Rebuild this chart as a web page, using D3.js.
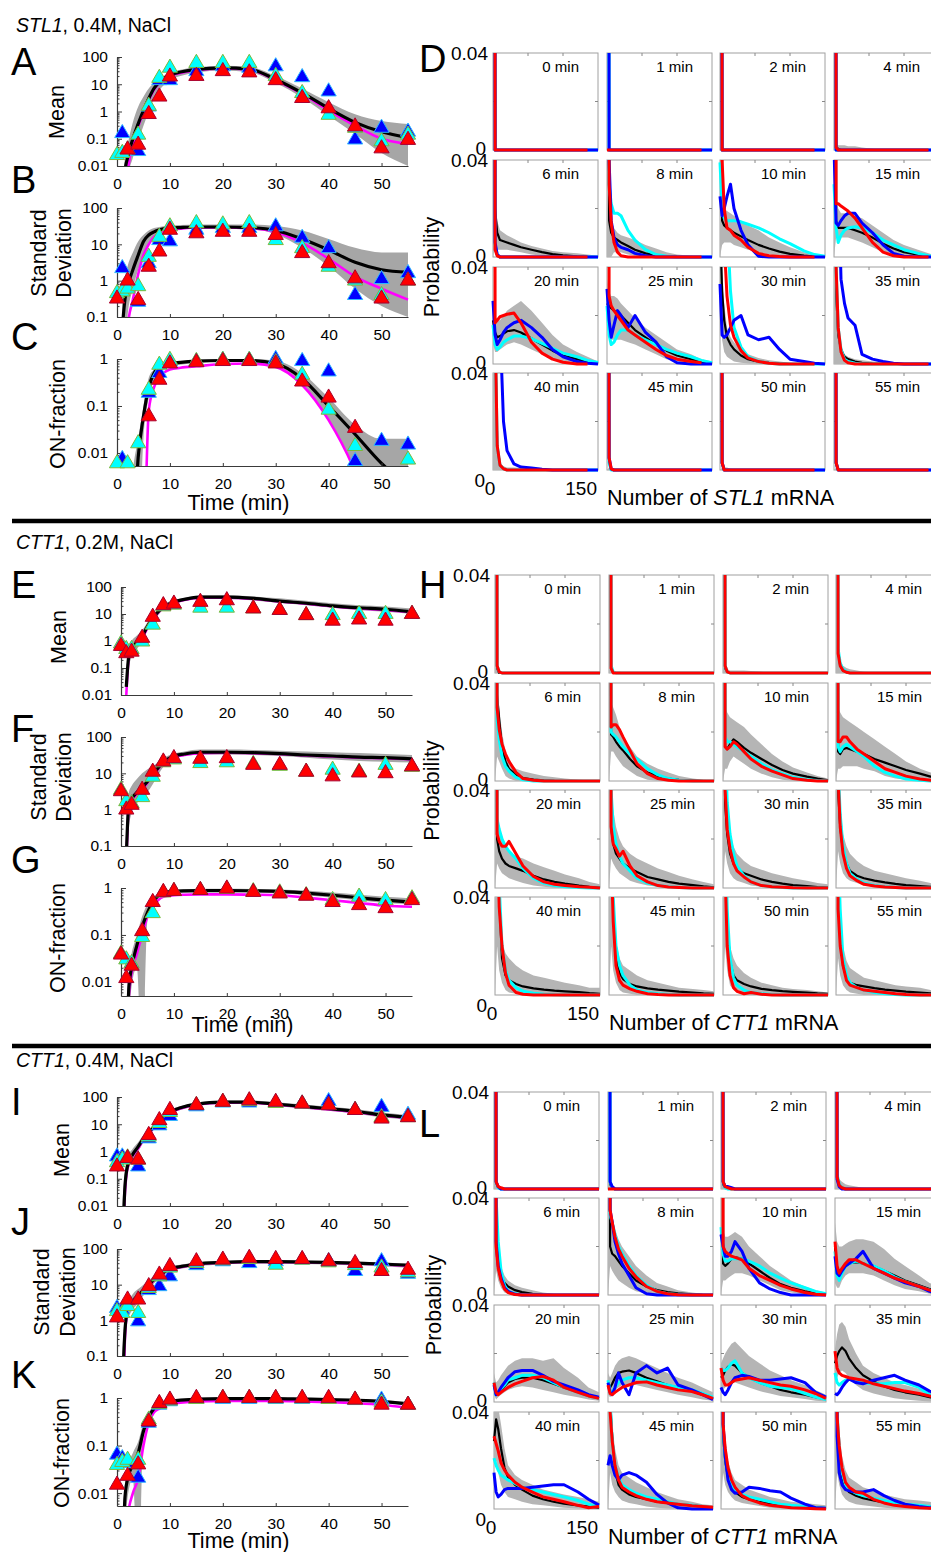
<!DOCTYPE html>
<html><head><meta charset="utf-8">
<script src="https://cdn.jsdelivr.net/npm/d3@7"></script>
<style>body{margin:0;background:#fff}svg{display:block}text{font-family:'Liberation Sans',Arial,Helvetica,sans-serif;fill:#000}</style>
</head><body><script>
// ---------------- DATA ----------------
const times = [0,1,2,4,6,8,10,15,20,25,30,35,40,45,50,55];
const modelTimes = [0,1,1.5,2,3,4,5,6,7,8,10,12,15,20,25,30,35,40,45,50,55];
const xTicks = [0,10,20,30,40,50];
const meanTicks = [0.01,0.1,1,10,100], meanTickLabels = ["0.01","0.1","1","10","100"];
const sdTicks = [0.1,1,10,100], sdTickLabels = ["0.1","1","10","100"];
const onTicks = [0.01,0.1,1], onTickLabels = ["0.01","0.1","1"];
const histX = [0,3,6,10,15,20,30,40,55,70,85,100,120,135,150];
const histYLabels = ["0","0.04"];
const histXLabels = ["0","150"];

// ---- STL1 0.4M ----
const stl1MeanBlue = [null,0.16,null,0.035,1.5,14,14,30,45,40,45,18,5.4,0.093,0.25,0.18];
const stl1MeanCyan = [0.025,0.03,0.04,0.14,1.6,17,40,60,60,60,20,4.7,0.75,0.25,0.08,0.14];
const stl1MeanRed = [null,null,0.04,0.06,0.8,3.5,19,20,30,27,14,3.1,1.3,0.28,0.044,0.09];
const stl1MeanBlack = [null,1e-4,0.006,0.02,0.1,0.35,1.1,3,7,12,22,28,35,40,36,15,4.8,1.3,0.4,0.18,0.11];
const stl1MeanMagenta = [null,1e-4,1e-4,0.005,0.06,0.28,0.9,2.6,6.3,11,20,26,33,38,34,14,4.4,1.1,0.3,0.1,0.065];
const stl1MeanGrayLo = [null,1e-4,1e-4,0.003,0.02,0.08,0.3,1,3,6,14,20,27,32,28,11,3.2,0.7,0.15,0.03,0.01];
const stl1MeanGrayHi = [null,0.002,0.02,0.06,0.4,1.5,3.5,7,11,16,27,34,42,48,44,20,7,2.2,0.8,0.45,0.35];

const stl1SdBlue = [null,2.2,null,0.26,3,13,12,25,28,28,31,15,7.8,0.4,1.1,1.6];
const stl1SdCyan = [0.45,0.5,0.6,0.7,4.5,16,31,38,35,38,13,7.8,2.4,1.0,0.4,1.0];
const stl1SdRed = [0.32,null,1.0,0.29,2.4,6.3,25,20,22,22,18,5.7,3,1.15,0.32,1.0];
const stl1SdBlack = [null,0.05,0.3,0.7,2,5,12,18,22,25,28,29,30,30,29,24,14,7,3.2,2,1.7];
const stl1SdMagenta = [null,1e-4,1e-4,0.05,0.3,1.5,5,10,16,20,25,27,29,29,28,22,11,4,1.3,0.6,0.3];
const stl1SdGrayLo = [null,1e-4,0.01,0.1,0.6,2,5,10,15,19,24,26,27,27,26,19,8,2.5,0.6,0.2,0.1];
const stl1SdGrayHi = [null,0.3,1.2,2.5,6,12,18,24,28,30,33,34,35,35,35,32,24,14,8,6,6];

const stl1OnBlue = [null,0.0074,null,null,0.19,0.5,0.88,0.88,0.95,0.95,1.0,0.9,0.54,0.0067,0.018,0.015];
const stl1OnCyan = [0.006,null,0.006,0.016,0.22,0.75,0.95,0.9,0.95,0.95,0.85,0.46,0.083,0.014,null,0.0072];
const stl1OnRed = [null,null,null,null,0.06,0.36,0.8,0.85,0.9,0.9,0.8,0.33,0.15,0.034,null,null];
const stl1OnBlack = [null,1e-4,1e-4,1e-4,1e-4,0.008,0.06,0.25,0.5,0.65,0.8,0.85,0.9,0.93,0.93,0.8,0.38,0.1,0.025,0.006,0.002];
const stl1OnMagenta = [null,1e-4,1e-4,1e-4,1e-4,1e-4,1e-4,0.08,0.25,0.4,0.6,0.65,0.7,0.78,0.8,0.68,0.28,0.05,0.004,1e-4,1e-4];
const stl1OnGrayLo = [null,1e-4,1e-4,1e-4,1e-4,1e-4,0.02,0.15,0.35,0.5,0.7,0.75,0.82,0.88,0.88,0.72,0.3,0.05,0.006,0.004,0.004];
const stl1OnGrayHi = [null,1e-4,1e-4,1e-4,0.004,0.02,0.1,0.4,0.6,0.75,0.88,0.9,0.95,1,1,0.92,0.5,0.15,0.04,0.02,0.02];

// histogram values in units of 0.001 probability, one row per time point
const stl1HistRed = [
[999,0,0,0,0,0,0,0,0,0,0,0,0,0,null],
[0,0,0,0,0,0,0,0,0,0,0,0,0,0,null],
[999,0,0,0,0,0,0,0,0,0,0,0,0,0,null],
[999,1,0,0,0,0,0,0,0,0,0,0,0,0,null],
[999,3,0.5,0,0,0,0,0,0,0,0,0,0,0,null],
[999,30,14,6,2,0.5,0,0,0,0,0,0,0,0,null],
[999,40,20,12,11,9,7,4,1.5,0.5,0.2,0,0,0,null],
[999,22,22,21,20,19,16,12,6,2,0.5,0,0,0,null],
[999,17,18,19.5,20,20.5,21,17,9,4.5,2,0.7,0,0,null],
[999,28,24,22,20,18,14,12,9,6,3.5,2,1,0.5,null],
[999,80,50,28,16,11,5.5,2.5,1,0.3,0,0,0,0,null],
[999,40,15,5,1.5,0.5,0,0,0,0,0,0,0,0,null],
[999,60,10,2,0.5,0,0,0,0,0,0,0,0,0,null],
[999,5,0.5,0,0,0,0,0,0,0,0,0,0,0,null],
[999,3,0,0,0,0,0,0,0,0,0,0,0,0,null],
[999,3,0,0,0,0,0,0,0,0,0,0,0,0,null]];
const stl1HistBlue = [
[999,0,0,0,0,0,0,0,0,0,0,0,0,0,0],
[999,0,0,0,0,0,0,0,0,0,0,0,0,0,0],
[999,0,0,0,0,0,0,0,0,0,0,0,0,0,0],
[999,0,0,0,0,0,0,0,0,0,0,0,0,0,0],
[999,6,1,0,0,0,0,0,0,0,0,0,0,0,0],
[999,40,15,8,5,4,3,1.5,0.5,0,0,0,0,0,0],
[25,17,20,25,30,20,11,5,0.3,0,0,0,0,0,0],
[45,14,13,15,17,18,18,14,10,5,1.5,0.3,0,0,0],
[26,12,8,10,13,15,17,18,15,11,6,3,1,0.3,0],
[31,18,11,16,22,20,15,20,13,9,3,0.5,0,0,0],
[33,12,11,12,15,18,20,12,10,11,6,2,1,0.3,0],
[999,999,80,35,25,19,16,4,2,1,0.3,0,0,0,0],
[999,999,200,60,20,8,2.5,1.2,0.8,0.3,0,0,0,0,0],
[999,5,0.5,0,0,0,0,0,0,0,0,0,0,0,0],
[999,3,0,0,0,0,0,0,0,0,0,0,0,0,0],
[999,3,0,0,0,0,0,0,0,0,0,0,0,0,0]];
const stl1HistCyan = [
[999,0,0,0,0,0,0,0,0,0,0,0,0,0,0],
[999,0,0,0,0,0,0,0,0,0,0,0,0,0,0],
[999,0,0,0,0,0,0,0,0,0,0,0,0,0,0],
[999,0,0,0,0,0,0,0,0,0,0,0,0,0,0],
[999,5,1,0,0,0,0,0,0,0,0,0,0,0,0],
[999,30,22,18,18,17,11,7,3,1,0.3,0,0,0,0],
[39,20,16,15,15,15,14.5,13.5,12,10,7.5,5.5,2.5,1,0.3],
[30,12,6,9,11,12,12.5,12,10,7,5,3,1.5,0.5,0.1],
[16,8,6,7,9,10,11.5,11.5,10.5,8.5,6.5,4.5,3,1.5,0.6],
[24,12,8,9,12,14,14,12,10,8,6,4.5,3,1.5,0.5],
[999,999,90,60,30,15,7,3,1,0.3,0,0,0,0,0],
[999,40,15,6,2,1,0.3,0,0,0,0,0,0,0,0],
[999,60,10,2,0.5,0,0,0,0,0,0,0,0,0,0],
[999,3,0,0,0,0,0,0,0,0,0,0,0,0,0],
[999,3,0,0,0,0,0,0,0,0,0,0,0,0,0],
[999,3,0,0,0,0,0,0,0,0,0,0,0,0,0]];
const stl1HistBlack = [
[999,0,0,0,0,0,0,0,0,0,0,0,0,0,0],
[999,0,0,0,0,0,0,0,0,0,0,0,0,0,0],
[999,0,0,0,0,0,0,0,0,0,0,0,0,0,0],
[999,1,0.5,0,0,0,0,0,0,0,0,0,0,0,0],
[999,20,10,7,6.5,6,5,4,3,2,1.2,0.7,0.3,0.1,0],
[999,15,10,8,7,6,4.5,3,1.5,0.7,0.3,0.1,0,0,0],
[999,15,13,12,11,10,8.5,7,5,3.5,2.2,1.3,0.6,0.2,0],
[999,15,12,12,12,12,11,10,8,5.5,3.5,2,1,0.4,0.1],
[18,13,11,11.5,12.5,13.5,14,13,10.5,8,5.5,3.5,2,0.8,0.2],
[25,24,23,22,21,20,17,14,11,8,5.5,3.5,2,1,0.3],
[60,30,18,11,8,6,3.5,2,1,0.5,0.2,0,0,0,0],
[999,30,12,6,3,2,1,0.5,0.2,0,0,0,0,0,0],
[999,60,10,2,0.5,0,0,0,0,0,0,0,0,0,0],
[999,3,0,0,0,0,0,0,0,0,0,0,0,0,0],
[999,3,0,0,0,0,0,0,0,0,0,0,0,0,0],
[999,3,0,0,0,0,0,0,0,0,0,0,0,0,0]];
const stl1HistGrayLo = [
[0,0,0,0,0,0,0,0,0,0,0,0,0,0,0],
[0,0,0,0,0,0,0,0,0,0,0,0,0,0,0],
[0,0,0,0,0,0,0,0,0,0,0,0,0,0,0],
[0,0,0,0,0,0,0,0,0,0,0,0,0,0,0],
[0,5,3,3,3,3,2.5,2,1,0.5,0,0,0,0,0],
[0,0,0,2,2,2,1,0.5,0,0,0,0,0,0,0],
[0,5,6,6,6,5,4,3,2,1,0.5,0,0,0,0],
[0,8,8,8,8,8,7,6,4,2,1,0.5,0,0,0],
[8,5,5,6,7,8,9,8,6,4,2,1,0.3,0,0],
[15,12,10,10,10,10,9,8,6,4,2,1,0.5,0,0],
[20,10,5,3,2,1,0.5,0.2,0,0,0,0,0,0,0],
[0,0,0,0,0,0,0,0,0,0,0,0,0,0,0],
[0,0,0,0,0,0,0,0,0,0,0,0,0,0,0],
[0,0,0,0,0,0,0,0,0,0,0,0,0,0,0],
[0,0,0,0,0,0,0,0,0,0,0,0,0,0,0],
[0,0,0,0,0,0,0,0,0,0,0,0,0,0,0]];
const stl1HistGrayHi = [
[0,0,0,0,0,0,0,0,0,0,0,0,0,0,0],
[0,0,0,0,0,0,0,0,0,0,0,0,0,0,0],
[0,2.5,0.5,0,0,0,0,0,0,0,0,0,0,0,0],
[999,3,2,2,2,1.5,1.5,1,0.5,0,0,0,0,0,0],
[999,25,15,11,10,9,7.5,6,4.5,3.5,2.5,2,1.5,1,0.5],
[999,30,15,12,10,9,8,7,5,3.5,2,1,0.5,0.2,0],
[999,25,20,19,18,17,15,13,11,8,6,4,2,1,0.5],
[999,25,20,18,18,18,17,16,13,10,7,5,3,1.5,0.5],
[25,20,18,18,20,22,24,26,22,17,12,8,5,3,1],
[35,30,28,28,27,25,22,19,15,12,9,6,4,2,1],
[80,40,25,15,11,9,6,4,2.5,1.5,1,0.5,0.3,0.1,0],
[999,40,15,8,4,3,2,1.5,1,0.7,0.5,0.3,0.2,0.1,0],
[999,60,12,3,1.5,1,1,0.8,0.5,0.3,0.2,0,0,0,0],
[0,1,1,0.5,0.5,0.3,0.3,0,0,0,0,0,0,0,0],
[0,1,1,1,0.5,0.3,0,0,0,0,0,0,0,0,0],
[0,1,1,0.5,0.5,0.3,0,0,0,0,0,0,0,0,0]];

// ---- CTT1 0.2M ----
const ctt1aMeanCyan = [0.8,0.5,0.5,0.95,4,19,22,17,17,16,14,9,9,10,10,10];
const ctt1aMeanRed = [0.65,0.35,0.4,1.3,7.8,21,24,28,32,16,14,9,5.6,6.2,5.6,10];
const ctt1aMeanBlack = [null,0.02,0.3,0.5,0.9,1.5,3.5,7,12,18,28,35,42,42,38,30,25,20,17,15,12];
const ctt1aMeanMagenta = [null,0.01,0.25,0.45,0.8,1.3,3,6.5,11,17,26,33,40,40,36,29,24,19,16,14,11.5];
const ctt1aMeanGrayLo = [null,0.005,0.1,0.25,0.5,1,2.5,5,9,15,24,30,36,36,32,26,21,17,14,12,10];
const ctt1aMeanGrayHi = [null,0.05,0.6,1,1.6,2.5,5,9,15,22,33,40,50,50,45,38,31,25,21,19,16];

const ctt1aSdCyan = [3.5,1.7,1.5,2.2,8,20,24,19,20,18,16,11,12.5,11,17,15];
const ctt1aSdRed = [3.2,1.0,1.35,3.5,11,21,26,25,26,17,17,11,8.2,10.5,10,15.5];
const ctt1aSdBlack = [null,0.05,1.5,2,3,4,6,9,14,20,30,34,38,38,37,35,32,30,28,27,25];
const ctt1aSdMagenta = [null,0.03,1.3,1.8,2.7,3.6,5.5,8.5,13,19,28,32,36,37,36,34,31,29,27,26,24];
const ctt1aSdGrayLo = [null,0.01,0.3,0.8,1.5,2,3,5,9,15,25,30,33,33,32,30,27,24,22,21,20];
const ctt1aSdGrayHi = [null,0.1,3,4.5,7,10,13,16,20,26,35,40,45,45,44,42,40,38,36,34,32];

const ctt1aOnCyan = [0.04,0.03,0.025,0.09,0.29,0.8,0.86,0.9,0.95,0.85,0.8,0.7,0.55,0.65,0.55,0.6];
const ctt1aOnRed = [0.038,0.012,0.022,0.12,0.5,0.82,0.86,0.9,0.97,0.82,0.76,0.68,0.5,0.43,0.37,0.55];
const ctt1aOnBlack = [null,1e-4,0.008,0.02,0.06,0.15,0.3,0.5,0.68,0.8,0.85,0.87,0.88,0.88,0.87,0.85,0.78,0.7,0.62,0.55,0.5];
const ctt1aOnMagenta = [null,1e-4,0.005,0.015,0.04,0.1,0.25,0.4,0.55,0.65,0.7,0.72,0.73,0.73,0.72,0.7,0.62,0.55,0.48,0.42,0.4];
const ctt1aOnGrayLo = [null,1e-4,0.002,0.008,0.02,1e-4,0.2,0.4,0.6,0.72,0.78,0.8,0.82,0.82,0.8,0.78,0.7,0.62,0.55,0.48,0.45];
const ctt1aOnGrayHi = [null,0.003,0.02,0.04,0.1,0.25,0.45,0.6,0.78,0.88,0.92,0.94,0.96,0.96,0.95,0.93,0.88,0.8,0.72,0.65,0.6];

const ctt1aHistRed = [
[999,3,0.5,0,0,0,0,0,0,0,0,0,0,0,0],
[999,2,0,0,0,0,0,0,0,0,0,0,0,0,0],
[999,3,0.5,0,0,0,0,0,0,0,0,0,0,0,0],
[999,8,3,1,0.3,0,0,0,0,0,0,0,0,0,0],
[999,30,21,15,11,8,3.5,1,0.3,0,0,0,0,0,0],
[999,22,23,23,21,18,12.5,7,3,1,0.3,0,0,0,0],
[999,14,13,14,16,15,12,9,6,4,2.5,1,0.3,0,0],
[999,16,16,18,18,16,13,11,8,5,3.5,2,0.8,0.3,0],
[999,22,19,17,17,19,14,9,4.7,2.5,1.5,1,0.5,0.3,0],
[999,25,18,16,13,15,9,5,2.5,1,0.4,0.2,0,0,0],
[999,40,24,16,10,7,4.5,2.5,1,0.5,0.3,0.1,0,0,0],
[999,45,25,14,8,5,3,1.5,0.8,0.4,0.2,0,0,0,0],
[999,70,36,20,9,4,1,0.3,0,0,0,0,0,0,0],
[999,60,30,12,6,4,2.5,1.5,0.5,0.2,0,0,0,0,0],
[999,50,20,8,3,1.5,0.5,1,0.3,0,0,0,0,0,0],
[999,35,20,12,6,4,3,2,1.5,1,0.5,0.2,0,0,0]];
const ctt1aHistCyan = [
[999,3,0.5,0,0,0,0,0,0,0,0,0,0,0,0],
[999,3,0.5,0,0,0,0,0,0,0,0,0,0,0,0],
[999,3,0.5,0,0,0,0,0,0,0,0,0,0,0,0],
[999,10,4,1.5,0.5,0,0,0,0,0,0,0,0,0,0],
[999,25,17,10,6,4,1.5,0.5,0,0,0,0,0,0,0],
[999,20,19,18,16,14,11,9,5,2.5,1,0.3,0,0,0],
[999,18,16,16,15,14,12,10,7,4.5,3,1.5,0.5,0.2,0],
[999,14,12,14,15,14,12,10,6,3.5,2,0.8,0.3,0,0],
[999,28,24,20,17,15,12,8,4,2,1,0.5,0.2,0,0],
[999,40,25,18,13,10,7,4,2,1,0.5,0.2,0,0,0],
[999,60,35,22,14,9,5,2.5,1,0.5,0.2,0,0,0,0],
[999,50,30,17,10,6,3.5,2,1,0.5,0.2,0,0,0,0],
[999,80,45,20,10,6,3,1.5,0.7,0.3,0.1,0,0,0,0],
[999,80,40,20,12,8,4,2,1,0.5,0.2,0,0,0,0],
[999,70,35,15,7,4,2,1,0.5,0.2,0,0,0,0,0],
[999,60,35,15,8,5,3,2,1,0.5,0.2,0,0,0,0]];
const ctt1aHistBlack = [
[999,2,0,0,0,0,0,0,0,0,0,0,0,0,0],
[999,2,0,0,0,0,0,0,0,0,0,0,0,0,0],
[999,2,0.5,0,0,0,0,0,0,0,0,0,0,0,0],
[999,9,3,1,0.3,0,0,0,0,0,0,0,0,0,0],
[999,35,25,14,8,5,2.5,1.2,0.6,0.3,0.1,0,0,0,0],
[999,19,18,16,14,12.5,9,6,3.5,2,1,0.5,0.2,0,0],
[999,14,13,15,17,16,13.5,11.5,9,6.5,4.5,3,1.8,1,0.3],
[999,12,11,13,13.5,13,12,11,9,7.5,6,4.5,3,1.8,1],
[999,20,15,12,10,9,8,7,5,3.5,2.5,1.8,1,0.5,0.2],
[999,25,18,14,12,10,8,6.5,4.5,3.5,2.5,1.8,1.2,0.7,0.3],
[999,35,22,14,10,8,6,5,3.5,2.5,1.8,1.2,0.8,0.4,0.2],
[999,40,25,15,10,7,5,4,3,2.3,1.7,1.2,0.8,0.5,0.3],
[999,70,40,15,8,6,4.5,3.5,2.7,2.2,1.8,1.5,1.2,0.8,0.5],
[999,70,35,15,9,6.5,4.5,3.5,2.7,2.2,1.8,1.4,1,0.7,0.5],
[999,60,30,14,8,6,4.5,3.5,2.5,2,1.6,1.3,1,0.7,0.5],
[999,50,28,12,7,5,4,3.5,2.8,2.2,1.8,1.4,1,0.7,0.5]];
const ctt1aHistGrayLo = [
[0,0,0,0,0,0,0,0,0,0,0,0,0,0,0],
[0,0,0,0,0,0,0,0,0,0,0,0,0,0,0],
[0,0,0,0,0,0,0,0,0,0,0,0,0,0,0],
[0,0,0,0,0,0,0,0,0,0,0,0,0,0,0],
[0,10,8,5,2,1,0,0,0,0,0,0,0,0,0],
[0,12,12,10,8,6,4,2,0.5,0,0,0,0,0,0],
[0,5,5,8,10,9,7,5,3,1.5,0.5,0,0,0,0],
[0,5,5,6,6,6,6,5,4,2,1,0.5,0.2,0,0],
[0,10,8,6,5,4,3,2,1,0.5,0,0,0,0,0],
[0,12,10,8,6,5,3,2,1,0.5,0,0,0,0,0],
[0,15,10,6,4,3,2,1,0.5,0,0,0,0,0,0],
[0,15,10,6,4,3,2,1,0.5,0,0,0,0,0,0],
[0,20,10,5,2,1,0.5,0,0,0,0,0,0,0,0],
[0,20,10,5,2,1,0.5,0,0,0,0,0,0,0,0],
[0,20,10,4,2,1,0.5,0,0,0,0,0,0,0,0],
[0,15,8,4,2,1,0.5,0,0,0,0,0,0,0,0]];
const ctt1aHistGrayHi = [
[999,3,0.5,0,0,0,0,0,0,0,0,0,0,0,0],
[999,3,1,0.5,0.5,0.3,0,0,0,0,0,0,0,0,0],
[999,4,1.5,1,1,1,1,0.8,0.5,0,0,0,0,0,0],
[999,12,5,3,2,1.5,1,0.5,0.3,0,0,0,0,0,0],
[999,40,30,20,12,8,5,4,3,2,1.5,1,0.5,0.3,0],
[999,32,30,27,22,18,14,10,7,5,3.5,2,1,0.5,0.2],
[999,30,28,26,25,24,22,19,15,11,8,5.5,3.5,2,1],
[999,30,28,26,25,24,22,20,17,14,11,8,5,3.5,2],
[999,32,25,20,17,15,13,12,10,8.5,7,5.5,4,2.5,1.5],
[999,40,32,25,20,17,14,12,10,8,6.5,5,3.5,2.5,1.5],
[999,60,35,22,17,14,11,9,7.5,6,5,4,3,2,1.5],
[999,60,35,22,17,14,11,9,7,6,5,4,3,2,1.5],
[999,80,45,22,17,15,12,10,8,7,6,5,4,3,3],
[999,80,45,22,15,12,10,8,6,5,4,3,2.5,2,1.5],
[999,70,40,20,15,12,9,7,5,4,3,2.5,2,1.5,1],
[999,60,35,20,14,11,9,7,6,5,4,3.5,3,2,1.5]];

// ---- CTT1 0.4M ----
const ctt1bMeanBlue = [0.65,0.65,null,0.28,3,9,20,45,62,62,62,57,70,33,43,22];
const ctt1bMeanCyan = [0.4,0.5,0.6,0.5,3.5,11,28,50,66,70,60,57,50,33,18,18];
const ctt1bMeanRed = [0.28,null,0.57,0.5,4,14,33,50,66,75,66,57,50,33,16,18];
const ctt1bMeanBlack = [null,1e-4,0.05,0.3,0.8,1.5,3,5,8,13,28,40,55,65,65,55,45,37,30,22,18];
const ctt1bMeanMagenta = [null,1e-4,0.03,0.25,0.7,1.3,2.7,4.5,7.5,12,26,38,52,62,63,53,43,35,28,21,17];
const ctt1bMeanGrayLo = [null,1e-4,0.01,0.15,0.5,1,2.2,4,6.5,10,23,33,47,55,56,47,38,31,25,18,15];
const ctt1bMeanGrayHi = [null,0.01,0.2,0.6,1.3,2.2,4,6.5,10,16,33,46,63,75,75,64,53,44,36,27,22];

const ctt1bSdBlue = [2.2,2,null,0.93,7,9,17,35,45,40,45,50,45,24,45,20];
const ctt1bSdCyan = [1.8,1.6,2.5,1.6,8,17,30,40,48,52,36,50,42,35,30,22];
const ctt1bSdRed = [1.2,null,3.8,3.8,9,19,33,45,50,56,52,52,45,40,24,26];
const ctt1bSdBlack = [null,0.01,0.5,2,3.5,5,7,10,14,18,28,32,38,42,44,44,43,42,40,38,35];
const ctt1bSdMagenta = [null,1e-4,0.3,1.8,3.2,4.6,6.5,9.5,13,17,27,31,37,41,43,43,42,41,39,37,34];
const ctt1bSdGrayLo = [null,1e-4,0.2,1,2,3,5,7,11,15,24,28,33,37,39,39,38,37,35,33,30];
const ctt1bSdGrayHi = [null,0.1,1.5,3,5.5,7.5,10,13,18,22,32,36,42,46,48,48,47,46,44,42,40];

const ctt1bOnBlue = [0.064,0.054,0.043,0.021,0.3,0.72,0.85,0.95,0.95,0.95,0.95,0.95,0.95,0.9,0.92,0.72];
const ctt1bOnCyan = [0.039,0.045,0.05,0.05,0.35,0.75,0.88,0.95,1,1,0.98,0.98,0.95,0.92,0.8,0.72];
const ctt1bOnRed = [0.015,null,0.023,0.04,0.32,0.78,0.92,1.0,1.0,1.0,1.0,1.0,1.0,0.92,0.72,0.72];
const ctt1bOnBlack = [null,1e-4,0.008,0.02,0.04,0.07,0.2,0.4,0.6,0.75,0.85,0.9,0.95,0.97,0.97,0.97,0.95,0.93,0.9,0.85,0.75];
const ctt1bOnMagenta = [null,1e-4,1e-4,0.003,0.01,0.02,0.1,0.3,0.5,0.6,0.75,0.8,0.85,0.87,0.87,0.87,0.85,0.82,0.78,0.72,0.62];
const ctt1bOnGrayLo = [null,1e-4,0.002,0.008,0.02,1e-4,0.15,0.35,0.55,0.7,0.82,0.87,0.92,0.94,0.94,0.94,0.92,0.9,0.86,0.8,0.7];
const ctt1bOnGrayHi = [null,0.003,0.015,0.035,0.07,0.12,0.3,0.5,0.7,0.82,0.9,0.94,0.98,1,1,1,0.99,0.97,0.94,0.9,0.82];

const ctt1bHistRed = [
[999,3,1,0.5,0,0,0,0,0,0,0,0,0,0,0],
[0,0,0,0,0,0,0,0,0,0,0,0,0,0,0],
[999,3,1,0.5,0,0,0,0,0,0,0,0,0,0,0],
[999,5,1.5,0.5,0,0,0,0,0,0,0,0,0,0,0],
[999,20,11,6,2.5,1,0.2,0,0,0,0,0,0,0,0],
[999,35,30,24,19,16,11,7.5,3.5,1.5,0.5,0.1,0,0,0],
[999,20,18,17,16,15.5,14.5,11,8,6,4,2.5,1,0.3,0],
[22,12,9,11,13,14.5,14.5,13,11,9,7,5.5,3.5,2,1],
[8,4,3,4,5,6,7.5,8.5,10,10.5,9,6,4,2.5,1.5],
[7,3.5,3,4,5,6,7,8,8.3,7,6,5,4.3,3,1.5],
[14,9,7,7,8,9,9.5,10,9,8,7,6.5,5,3.5,1.5],
[21,14,12,11,10.5,10,9.5,9,7.5,6.5,5.5,4.5,3.5,2.5,1.5],
[30,27,24,19,16,14,11,9,7,5,4,3,1.5,0.5,1],
[999,40,28,18,12,9,7,5.5,4,3,2.5,2,1.3,1,0.7],
[999,35,25,17,12,9,5.5,4,2.5,1.5,1,0.5,0.3,0.1,0],
[999,38,26,17,11,9,7,6.5,4,2.5,1.5,1,0.5,0.3,0.2]];
const ctt1bHistBlue = [
[999,3,1,0,0,0,0,0,0,0,0,0,0,0,0],
[999,3,1,0,0,0,0,0,0,0,0,0,0,0,0],
[999,3,1,1,0.5,0,0,0,0,0,0,0,0,0,0],
[999,4,1,0,0,0,0,0,0,0,0,0,0,0,0],
[999,22,12,7,3,1.5,0.3,0,0,0,0,0,0,0,0],
[999,35,30,22,17,13,8,3,0.5,0,0,0,0,0,0],
[25,20,16,16,18,22,18,11,5,2.5,1,0,0,0,0],
[16,9,8,10,12,13,15,18,11,9,7,5,3.5,1.5,0.5],
[7,3,4,6,8,10,12.5,13,13,11,8.5,7,5,3,2],
[8,4,3,6,12,8,3,12,15,12,14,7,5,3,1],
[6,4,3,5,8,10,11,10.5,9,9,9.5,10,8,4,2],
[3.5,3,4,6,8,9.5,8,7.5,9,10,11,9,7,4.5,3],
[15,7,5,6,8,8.5,8.5,8.5,9,9.5,10,10,7,4,1.6],
[18,22,18,14,12,14,15,14,11,6,2.5,0.5,0,0,0],
[999,35,22,12,8,6.5,7,9,8.5,7.5,7,4.5,2,0.5,0.3],
[999,30,15,10,8,7.5,7,7,8,5.5,3.5,2,1,0.5,0.3]];
const ctt1bHistCyan = [
[999,3,0.5,0,0,0,0,0,0,0,0,0,0,0,0],
[999,3,0.5,0,0,0,0,0,0,0,0,0,0,0,0],
[999,3,0.5,0,0,0,0,0,0,0,0,0,0,0,0],
[999,6,2,0.5,0,0,0,0,0,0,0,0,0,0,0],
[999,40,22,10,4,1.5,0.5,0,0,0,0,0,0,0,0],
[999,33,30,25,20,17,12,8,4,1.5,0.5,0.2,0,0,0],
[28,17,14,14,15,15,15,14,12,9,7,5,3,1.5,0.5],
[18,8,6,9,12,13,14,13,12,10,7.5,5.5,3.5,2,1],
[8,3,4,5.5,7,9,10,11,11,10,8,6,4,2.5,1.5],
[9,4,4,6,8,9,10,10,9,8,7,6,5,3.5,2],
[14,13,13,14,16,17,12,10,8,6.5,6,5.5,3.5,2,1],
[12,8,7,8,9,9.5,9,8,7.5,7.5,8,8,6,3,1.5],
[21,18,16,14,13,12,10.5,9,8,7,6,5,3.5,2,1],
[999,45,28,18,13,10,8,6.5,5,4,3,2,1.5,1,0.5],
[999,33,22,14,10,8,6,5,4,3,2,1.5,1,0.5,0.3],
[999,40,25,15,10,8,6.5,5.5,4.5,3.5,2.5,2,1.5,1,0.5]];
const ctt1bHistBlack = [
[999,3,0.5,0,0,0,0,0,0,0,0,0,0,0,0],
[999,2,0.5,0,0,0,0,0,0,0,0,0,0,0,0],
[999,2,0.5,0,0,0,0,0,0,0,0,0,0,0,0],
[999,5,1.5,0.5,0,0,0,0,0,0,0,0,0,0,0],
[999,25,14,8,5,3.5,2,1.2,0.5,0.2,0,0,0,0,0],
[999,20,17,16,14,12,9,6,3.5,2,1.2,0.7,0.3,0.1,0],
[999,13,12,13,15,15.5,15,13,10,7,4.5,3,1.5,0.7,0.2],
[20,8,7,10,12,13,13.5,13,12,10,8,6,4,2.5,1.2],
[7,3,3.5,5,6.5,8,9.5,10,10,9,7.5,6,4,2.5,1.5],
[7,6,7.5,10,12,12.5,13,12,10,8.5,7,6,4.5,3,1.5],
[10,11,13,14.5,15.5,15,12,10,8,6.5,5,4,3,2,1.2],
[16,19,21,22.5,21,18,14,11,8.5,6.5,5,4,3,2,1.3],
[28,37,33,25,17,13,10,8,5.5,4,3,2.2,1.5,1,0.6],
[999,45,30,16,10,8,6,5,4,3,2.5,2,1.5,1,0.7],
[999,30,20,13,9,7,5,4,3,2.3,1.8,1.3,1,0.6,0.4],
[999,35,22,13,9,7,5.5,4.5,3.5,2.7,2.2,1.7,1.3,1,0.7]];
const ctt1bHistGrayLo = [
[0,0,0,0,0,0,0,0,0,0,0,0,0,0,0],
[0,0,0,0,0,0,0,0,0,0,0,0,0,0,0],
[0,0,0,0,0,0,0,0,0,0,0,0,0,0,0],
[0,0,0,0,0,0,0,0,0,0,0,0,0,0,0],
[0,10,6,3,1,0.5,0,0,0,0,0,0,0,0,0],
[0,12,10,8,6,5,3,1.5,0.5,0,0,0,0,0,0],
[0,6,6,7,8,9,9,8,6,4,2,1,0.3,0,0],
[5,3,3,6,8,9,9,9,8,6,4,2.5,1.5,0.5,0],
[3,1,2,3,4,5,6,6.5,6,5,4,3,2,1,0.5],
[3,2,3,5,6,7,7,7,6,5,4,3,2,1,0.5],
[4,5,6,7,8,8,7,6,4.5,3.5,2.5,2,1.2,0.5,0.2],
[10,10,12,13,12,10,7,5,3.5,2.5,1.5,1,0.5,0.2,0],
[20,20,15,10,7,5,4,3,2,1.5,1,0.5,0.2,0,0],
[0,15,10,7,5,3.5,2.5,2,1,0.5,0.2,0,0,0,0],
[0,15,10,7,5,3.5,2.5,2,1.2,0.5,0.2,0,0,0,0],
[0,15,10,6,4,3,2,1.5,1,0.5,0.2,0,0,0,0]];
const ctt1bHistGrayHi = [
[999,3,1,0.5,0,0,0,0,0,0,0,0,0,0,0],
[999,3,1,0.5,0,0,0,0,0,0,0,0,0,0,0],
[999,4,1.5,1,0.5,0.3,0,0,0,0,0,0,0,0,0],
[999,8,4,3,2,1.5,1,0.5,0.3,0,0,0,0,0,0],
[999,35,20,12,8,6,4,3,2,1,0.5,0.2,0,0,0],
[999,35,30,27,23,20,16,12,8,5,3.5,2,1,0.5,0.2],
[999,27,24,24,25,26,24,20,16,12,9,6,3.5,2,1],
[30,22,20,20,21,22,23,23,22,19,15,12,8,5,3],
[12,8,9,11,13,15,17,18,18,17,18,14,10,6,4],
[12,10,12,15,17,18,19,18,16,14,12,10,8,6,4],
[16,18,20,22,24,25,22,19,16,13,11,9,7,5,3],
[22,28,32,33,31,26,20,15,12,10,8,7,5.5,4,3],
[40,45,42,35,25,18,14,12,10,8,7,6,5,4,3],
[999,50,35,25,18,15,13,11,9,7,5.5,4,3,2,1.5],
[999,45,30,20,15,12,10,8,6.5,5,4,3,2.5,2,1.5],
[999,50,33,22,16,13,11,9,7.5,6,5,4,3.5,3,2]];

// ---------------- DRAWING ----------------
const W = 931, H = 1552;
const svg = d3.select("body").append("svg").attr("width", W).attr("height", H);
const defs = svg.append("defs");
let clipN = 0;
function clip(x, y, w, h) {
  const id = "clip" + (clipN++);
  defs.append("clipPath").attr("id", id).append("rect").attr("x", x).attr("y", y).attr("width", w).attr("height", h);
  return "url(#" + id + ")";
}

const sections = [
  { title: ["STL1", ", 0.4M, NaCl"], titleY: 32, gene: "STL1", x0: 117, x1: 408, timeY: 510,
    panels: [
      { letter: "A", letterY: 75, top: 57, bottom: 166, domain: [0.01, 100], ticks: meanTicks, labels: meanTickLabels,
        ylab: [["Mean", 57]], ylabY: 112,
        blue: stl1MeanBlue, cyan: stl1MeanCyan, red: stl1MeanRed, black: stl1MeanBlack, magenta: stl1MeanMagenta, lo: stl1MeanGrayLo, hi: stl1MeanGrayHi },
      { letter: "B", letterY: 193, top: 208, bottom: 317, domain: [0.1, 100], ticks: sdTicks, labels: sdTickLabels,
        ylab: [["Standard", 39], ["Deviation", 64]], ylabY: 253,
        blue: stl1SdBlue, cyan: stl1SdCyan, red: stl1SdRed, black: stl1SdBlack, magenta: stl1SdMagenta, lo: stl1SdGrayLo, hi: stl1SdGrayHi },
      { letter: "C", letterY: 350, top: 359, bottom: 466, domain: [Math.pow(10, -2.277), 1], ticks: onTicks, labels: onTickLabels,
        ylab: [["ON-fraction", 58]], ylabY: 414,
        blue: stl1OnBlue, cyan: stl1OnCyan, red: stl1OnRed, black: stl1OnBlack, magenta: stl1OnMagenta, lo: stl1OnGrayLo, hi: stl1OnGrayHi }
    ],
    hist: { letter: "D", letterY: 72, cols: [493, 607, 720, 834], rows: [53, 160, 267, 373], bh: 97, probX: 432,
      red: stl1HistRed, blue: stl1HistBlue, cyan: stl1HistCyan, black: stl1HistBlack, lo: stl1HistGrayLo, hi: stl1HistGrayHi }
  },
  { title: ["CTT1", ", 0.2M, NaCl"], titleY: 549, gene: "CTT1", x0: 121, x1: 412, timeY: 1032,
    panels: [
      { letter: "E", letterY: 598, top: 587, bottom: 695, domain: [0.01, 100], ticks: meanTicks, labels: meanTickLabels,
        ylab: [["Mean", 59]], ylabY: 637,
        blue: null, cyan: ctt1aMeanCyan, red: ctt1aMeanRed, black: ctt1aMeanBlack, magenta: ctt1aMeanMagenta, lo: ctt1aMeanGrayLo, hi: ctt1aMeanGrayHi },
      { letter: "F", letterY: 742, top: 737, bottom: 846, domain: [0.1, 100], ticks: sdTicks, labels: sdTickLabels,
        ylab: [["Standard", 39], ["Deviation", 64]], ylabY: 777,
        blue: null, cyan: ctt1aSdCyan, red: ctt1aSdRed, black: ctt1aSdBlack, magenta: ctt1aSdMagenta, lo: ctt1aSdGrayLo, hi: ctt1aSdGrayHi },
      { letter: "G", letterY: 873, top: 888, bottom: 996, domain: [Math.pow(10, -2.3), 1], ticks: onTicks, labels: onTickLabels,
        ylab: [["ON-fraction", 58]], ylabY: 938,
        blue: null, cyan: ctt1aOnCyan, red: ctt1aOnRed, black: ctt1aOnBlack, magenta: ctt1aOnMagenta, lo: ctt1aOnGrayLo, hi: ctt1aOnGrayHi }
    ],
    hist: { letter: "H", letterY: 598, cols: [495, 609, 723, 836], rows: [575, 683, 790, 897], bh: 98, probX: 432,
      red: ctt1aHistRed, blue: null, cyan: ctt1aHistCyan, black: ctt1aHistBlack, lo: ctt1aHistGrayLo, hi: ctt1aHistGrayHi }
  },
  { title: ["CTT1", ", 0.4M, NaCl"], titleY: 1067, gene: "CTT1", x0: 117, x1: 408, timeY: 1548,
    panels: [
      { letter: "I", letterY: 1115, top: 1097, bottom: 1206, domain: [0.01, 100], ticks: meanTicks, labels: meanTickLabels,
        ylab: [["Mean", 62]], ylabY: 1150,
        blue: ctt1bMeanBlue, cyan: ctt1bMeanCyan, red: ctt1bMeanRed, black: ctt1bMeanBlack, magenta: ctt1bMeanMagenta, lo: ctt1bMeanGrayLo, hi: ctt1bMeanGrayHi },
      { letter: "J", letterY: 1235, top: 1249, bottom: 1356, domain: [0.1, 100], ticks: sdTicks, labels: sdTickLabels,
        ylab: [["Standard", 42], ["Deviation", 68]], ylabY: 1292,
        blue: ctt1bSdBlue, cyan: ctt1bSdCyan, red: ctt1bSdRed, black: ctt1bSdBlack, magenta: ctt1bSdMagenta, lo: ctt1bSdGrayLo, hi: ctt1bSdGrayHi },
      { letter: "K", letterY: 1388, top: 1398, bottom: 1506, domain: [Math.pow(10, -2.27), 1], ticks: onTicks, labels: onTickLabels,
        ylab: [["ON-fraction", 62]], ylabY: 1453,
        blue: ctt1bOnBlue, cyan: ctt1bOnCyan, red: ctt1bOnRed, black: ctt1bOnBlack, magenta: ctt1bOnMagenta, lo: ctt1bOnGrayLo, hi: ctt1bOnGrayHi }
    ],
    hist: { letter: "L", letterY: 1137, cols: [494, 608, 721, 835], rows: [1092, 1198, 1305, 1412], bh: 97, probX: 434,
      red: ctt1bHistRed, blue: ctt1bHistBlue, cyan: ctt1bHistCyan, black: ctt1bHistBlack, lo: ctt1bHistGrayLo, hi: ctt1bHistGrayHi }
  }
];

const AX = "#3a3a3a";
const triSym = d3.symbol().type(d3.symbolTriangle).size(100);
const triStyles = [["blue", "#0000ff", "#2fb8ff"], ["cyan", "#00ffff", "#7cb83a"], ["red", "#ff0000", "#a8002e"]];

function styleAxis(g, fs) {
  g.attr("font-family", null).attr("font-size", null);
  g.selectAll("path.domain").attr("stroke", AX).attr("stroke-width", 1.2);
  g.selectAll(".tick line").attr("stroke", AX);
  g.selectAll(".tick text").attr("font-size", fs + "px").attr("fill", "#000");
}

function drawLeft(sec) {
  const x = d3.scaleLinear().domain([0, 55]).range([sec.x0, sec.x1]);
  sec.panels.forEach(p => {
    const y = d3.scaleLog().domain(p.domain).range([p.bottom, p.top]);
    const g = svg.append("g");
    const md = modelTimes.map((t, i) => ({ t, lo: p.lo[i], hi: p.hi[i], k: p.black[i], m: p.magenta[i] }));
    const lg = g.append("g").attr("clip-path", clip(sec.x0, p.top - 3, sec.x1 - sec.x0 + 4, p.bottom - p.top + 3));
    lg.append("path").datum(md.filter(d => d.lo != null && d.hi != null))
      .attr("d", d3.area().curve(d3.curveMonotoneX).x(d => x(d.t)).y0(d => y(d.lo)).y1(d => y(d.hi)))
      .attr("fill", "#a6a6a6");
    const ln = key => d3.line().curve(d3.curveMonotoneX).defined(d => d[key] != null).x(d => x(d.t)).y(d => y(d[key]));
    lg.append("path").datum(md).attr("d", ln("m")).attr("fill", "none").attr("stroke", "#ff00ff").attr("stroke-width", 2.6);
    lg.append("path").datum(md).attr("d", ln("k")).attr("fill", "none").attr("stroke", "#000").attr("stroke-width", 3.2);

    // minor ticks
    const minor = [];
    for (let k = Math.floor(Math.log10(p.domain[0])); k <= Math.ceil(Math.log10(p.domain[1])); k++)
      for (let m = 2; m <= 9; m++) { const v = m * Math.pow(10, k); if (v >= p.domain[0] && v <= p.domain[1]) minor.push(v); }
    const gm = g.append("g").attr("transform", `translate(${sec.x0},0)`)
      .call(d3.axisLeft(y).tickValues(minor).tickFormat("").tickSizeInner(-2.5).tickSizeOuter(0));
    gm.select("path.domain").remove();
    gm.selectAll(".tick line").attr("stroke", AX);
    const gy = g.append("g").attr("transform", `translate(${sec.x0},0)`)
      .call(d3.axisLeft(y).tickValues(p.ticks).tickFormat((d, i) => p.labels[i]).tickSizeInner(-5).tickSizeOuter(0).tickPadding(9));
    styleAxis(gy, 15.5);
    const gx = g.append("g").attr("transform", `translate(0,${p.bottom})`)
      .call(d3.axisBottom(x).tickValues(xTicks).tickSizeInner(-3).tickSizeOuter(0).tickPadding(12));
    styleAxis(gx, 15.5);

    // triangles
    triStyles.forEach(([k, f, s]) => {
      if (!p[k]) return;
      g.append("g").selectAll("path").data(times.map((t, i) => ({ t, v: p[k][i] })).filter(d => d.v != null))
        .join("path").attr("d", triSym).attr("transform", d => `translate(${x(d.t)},${y(d.v)})`)
        .attr("fill", f).attr("stroke", s).attr("stroke-width", 1);
    });

    // letters + labels
    svg.append("text").attr("x", 11).attr("y", p.letterY).attr("font-size", "38px").text(p.letter);
    p.ylab.forEach(([txt, lx]) => {
      svg.append("text").attr("transform", `translate(${lx},${p.ylabY}) rotate(-90)`)
        .attr("text-anchor", "middle").attr("dominant-baseline", "central").attr("font-size", "21.5px").text(txt);
    });
  });
  svg.append("text").attr("x", (sec.x0 + sec.x1) / 2 - 24).attr("y", sec.timeY).attr("text-anchor", "middle")
    .attr("font-size", "21.5px").text("Time (min)");
  const tt = svg.append("text").attr("x", 16).attr("y", sec.titleY).attr("font-size", "19.5px");
  tt.append("tspan").attr("font-style", "italic").text(sec.title[0]);
  tt.append("tspan").text(sec.title[1]);
}

function drawHist(sec) {
  const h = sec.hist, bw = 105, bh = h.bh;
  times.forEach((t, i) => {
    const col = i % 4, row = Math.floor(i / 4);
    const bx = h.cols[col], by = h.rows[row];
    const x = d3.scaleLinear().domain([0, 150]).range([bx, bx + bw]);
    const y = d3.scaleLinear().domain([0, 0.04]).range([by + bh, by]);
    const g = svg.append("g");
    g.append("rect").attr("x", bx).attr("y", by).attr("width", bw).attr("height", bh)
      .attr("fill", "#fff").attr("stroke", "#a0a0a0").attr("stroke-width", 1);
    // small inward ticks
    [50, 100].forEach(v => {
      g.append("line").attr("x1", x(v)).attr("x2", x(v)).attr("y1", by).attr("y2", by + 3).attr("stroke", "#888");
    });
    g.append("line").attr("x1", bx + bw).attr("x2", bx + bw - 3).attr("y1", y(0.02)).attr("y2", y(0.02)).attr("stroke", "#888");
    g.append("line").attr("x1", bx).attr("x2", bx + 3).attr("y1", y(0.02)).attr("y2", y(0.02)).attr("stroke", "#888");

    const lg = g.append("g").attr("clip-path", clip(bx - 2, by, bw + 4, bh + 2.5));
    const band = histX.map((hx, j) => ({ hx, lo: h.lo[i][j], hi: h.hi[i][j] }));
    lg.append("path").datum(band)
      .attr("d", d3.area().x(d => x(d.hx)).y0(d => y(d.lo / 1000)).y1(d => y(d.hi / 1000)))
      .attr("fill", "#b5b5b5");
    const line = d3.line().defined(d => d.v != null).x(d => x(d.hx)).y(d => y(d.v / 1000));
    [["black", "#000", 2.2], ["cyan", "#00ffff", 3], ["blue", "#0000ff", 3], ["red", "#ff0000", 3]].forEach(([k, c, w]) => {
      if (!h[k]) return;
      lg.append("path").datum(histX.map((hx, j) => ({ hx, v: h[k][i][j] })))
        .attr("d", line).attr("fill", "none").attr("stroke", c).attr("stroke-width", w)
        .attr("stroke-linejoin", "round");
    });
    g.append("text").attr("x", bx + bw - 19).attr("y", by + 19).attr("text-anchor", "end")
      .attr("font-size", "15px").text(t + " min");

    if (col === 0) {
      g.append("text").attr("x", bx - 5).attr("y", y(0.04) + 7).attr("text-anchor", "end")
        .attr("font-size", "19px").text(histYLabels[1]);
      if (row < 3) {
        g.append("text").attr("x", bx - 7).attr("y", y(0) + 5).attr("text-anchor", "end")
          .attr("font-size", "19px").text(histYLabels[0]);
      } else {
        g.append("text").attr("x", bx - 8).attr("y", y(0) + 17).attr("text-anchor", "end")
          .attr("font-size", "19px").text(histYLabels[0]);
        g.append("text").attr("x", x(0) - 3).attr("y", y(0) + 25).attr("text-anchor", "middle")
          .attr("font-size", "19px").text(histXLabels[0]);
        g.append("text").attr("x", x(150) - 1).attr("y", y(0) + 25).attr("text-anchor", "end")
          .attr("font-size", "19px").text(histXLabels[1]);
      }
    }
  });
  const bottom = h.rows[3] + bh;
  const nt = svg.append("text").attr("x", h.cols[1]).attr("y", bottom + 35).attr("font-size", "21.5px");
  nt.append("tspan").text("Number of ");
  nt.append("tspan").attr("font-style", "italic").text(sec.gene);
  nt.append("tspan").text(" mRNA");
  const py = (h.rows[1] + h.rows[2] + bh) / 2 + 5;
  svg.append("text").attr("transform", `translate(${h.probX},${py}) rotate(-90)`)
    .attr("text-anchor", "middle").attr("dominant-baseline", "central").attr("font-size", "21.5px").text("Probability");
  svg.append("text").attr("x", 419).attr("y", h.letterY).attr("font-size", "38px").text(h.letter);
}

sections.forEach(s => { drawLeft(s); drawHist(s); });

// section separators
[521, 1046].forEach(yy => {
  svg.append("line").attr("x1", 12).attr("x2", W).attr("y1", yy).attr("y2", yy)
    .attr("stroke", "#000").attr("stroke-width", 4.5);
});
</script></body></html>
